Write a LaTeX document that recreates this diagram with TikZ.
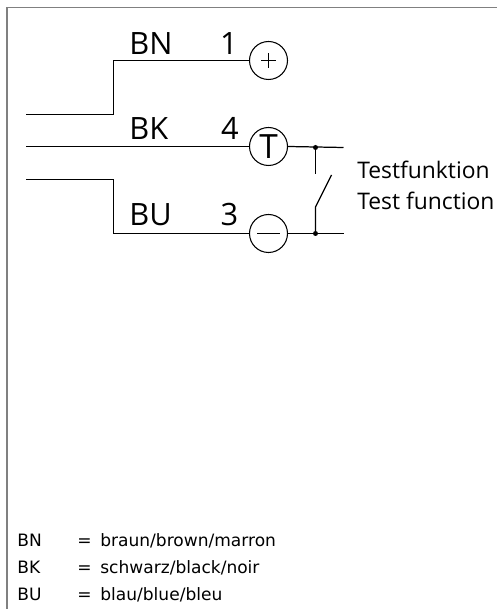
\documentclass[tikz,border=0pt]{standalone}
\usepackage{fontspec}
\setmainfont{Open Sans}
\newfontfamily\legendfont{DejaVu Sans}
\tikzset{
    pin/.style={draw, circle, minimum size=0.76cm, inner sep=0pt, line width=0.6pt},
    wirelabel/.style={anchor=base west, inner sep=0pt, font=\fontsize{17.5}{20}\selectfont},
    pinlabel/.style={anchor=base east, inner sep=0pt, font=\fontsize{17.5}{20}\selectfont},
    testlabel/.style={anchor=base west, inner sep=0pt, font=\fontsize{13}{16}\selectfont},
    legend/.style={anchor=base west, inner sep=0pt, font=\legendfont\fontsize{9.7}{11}\selectfont},
    wire/.style={line width=0.7pt}
}
\begin{document}
\begin{tikzpicture}
    \useasboundingbox (0,0) rectangle (9.94,12.18);
    \draw[gray, line width=1.1pt] (0.14,0) -- (0.14,12.03) -- (9.94,12.03);

    \node[pin] (plus) at (5.37,10.97) {};
    \node[pin, font=\fontsize{19}{20}\selectfont] (test) at (5.37,9.25) {T};
    \node[pin] (minus) at (5.37,7.51) {};
    \draw[thin] (5.22,10.97) -- (5.52,10.97);
    \draw[thin] (5.22,10.97) ++(0.15,-0.15) -- ++(0,0.3);
    \draw[thin] (5.14,7.51) -- (5.6,7.51);

    \coordinate (bnstart) at (0.52,9.89);
    \coordinate (bkstart) at (0.52,9.25);
    \coordinate (bustart) at (0.52,8.59);
    \draw[wire] (bnstart) -- (2.27,9.89) |- (plus.west);
    \draw[wire] (bkstart) -- (test.west);
    \draw[wire] (bustart) -- (2.27,8.59) |- (minus.west);

    \coordinate (topend) at (6.87,9.23);
    \coordinate (botend) at (6.87,7.51);
    \coordinate (topdot) at (6.31,9.23);
    \coordinate (botdot) at (6.31,7.51);
    \draw[wire] (test.east) -- (topend);
    \draw[wire] (minus.east) -- (botend);
    \fill (topdot) circle (0.05);
    \fill (botdot) circle (0.05);
    \draw[wire] (topdot) -- (6.31,8.70);
    \draw[wire] (botdot) -- (6.31,8.04) -- (6.63,8.68);

    \node[wirelabel] (bn) at (2.58,11.09) {BN};
    \node[wirelabel] (bk) at (2.58,9.39) {BK};
    \node[wirelabel] (bu) at (2.58,7.66) {BU};
    \node[pinlabel] (one) at (4.76,11.09) {1};
    \node[pinlabel] (four) at (4.78,9.39) {4};
    \node[pinlabel] (three) at (4.77,7.66) {3};

    \node[testlabel] (testde) at (7.14,8.60) {Testfunktion};
    \node[testlabel] (testen) at (7.14,7.98) {Test function};

    \node[legend] (lbn) at (0.34,1.25) {BN};
    \node[legend] (lbk) at (0.34,0.70) {BK};
    \node[legend] (lbu) at (0.34,0.18) {BU};
    \node[legend] (ebn) at (1.54,1.25) {=};
    \node[legend] (ebk) at (1.54,0.70) {=};
    \node[legend] (ebu) at (1.54,0.18) {=};
    \node[legend] (tbn) at (2.00,1.25) {braun/brown/marron};
    \node[legend] (tbk) at (2.00,0.70) {schwarz/black/noir};
    \node[legend] (tbu) at (2.00,0.18) {blau/blue/bleu};
\end{tikzpicture}
\end{document}
